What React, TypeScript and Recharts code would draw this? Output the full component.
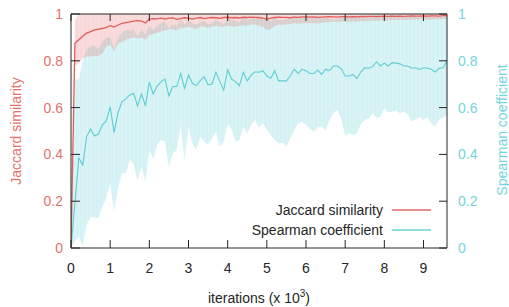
import React from 'react'
import {
  ComposedChart,
  Area,
  Line,
  XAxis,
  YAxis,
  ReferenceLine,
  Legend,
} from 'recharts'

// iterations, in thousands
const iterations = [
  0, 0.1, 0.2, 0.3, 0.4, 0.5, 0.6, 0.7, 0.8, 0.9,
  1, 1.1, 1.2, 1.3, 1.4, 1.5, 1.6, 1.7, 1.8, 1.9,
  2, 2.1, 2.2, 2.3, 2.4, 2.5, 2.6, 2.7, 2.8, 2.9,
  3, 3.1, 3.2, 3.3, 3.4, 3.5, 3.6, 3.7, 3.8, 3.9,
  4, 4.1, 4.2, 4.3, 4.4, 4.5, 4.6, 4.7, 4.8, 4.9,
  5, 5.1, 5.2, 5.3, 5.4, 5.5, 5.6, 5.7, 5.8, 5.9,
  6, 6.1, 6.2, 6.3, 6.4, 6.5, 6.6, 6.7, 6.8, 6.9,
  7, 7.1, 7.2, 7.3, 7.4, 7.5, 7.6, 7.7, 7.8, 7.9,
  8, 8.1, 8.2, 8.3, 8.4, 8.5, 8.6, 8.7, 8.8, 8.9,
  9, 9.1, 9.2, 9.3, 9.4, 9.5, 9.6,
]

const jaccard = [
  0, 0.875, 0.89, 0.905, 0.918, 0.925, 0.932, 0.935, 0.938, 0.943,
  0.95, 0.944, 0.953, 0.96, 0.963, 0.966, 0.97, 0.972, 0.97, 0.962,
  0.978, 0.98, 0.979, 0.982, 0.978, 0.982, 0.983, 0.977, 0.98, 0.984,
  0.982, 0.978, 0.982, 0.985, 0.98, 0.983, 0.985, 0.984, 0.981, 0.985,
  0.986, 0.984, 0.985, 0.983, 0.986, 0.985, 0.987, 0.986, 0.985, 0.982,
  0.978, 0.982, 0.985, 0.987, 0.986, 0.986, 0.984, 0.987, 0.986, 0.988,
  0.988, 0.987, 0.988, 0.986, 0.987, 0.988, 0.989, 0.988, 0.987, 0.989,
  0.989, 0.988, 0.989, 0.988, 0.99, 0.989, 0.99, 0.99, 0.989, 0.99,
  0.991, 0.99, 0.991, 0.99, 0.991, 0.99, 0.991, 0.992, 0.991, 0.991,
  0.992, 0.991, 0.992, 0.992, 0.991, 0.993, 0.993,
]

const jaccardLow = [
  0, 0.78, 0.79, 0.81, 0.818, 0.818, 0.82, 0.82, 0.83, 0.86,
  0.87, 0.84, 0.875, 0.88, 0.89, 0.895, 0.9, 0.895, 0.9, 0.89,
  0.91, 0.915, 0.92, 0.925, 0.93, 0.935, 0.935, 0.93, 0.94, 0.94,
  0.945, 0.94, 0.935, 0.945, 0.945, 0.94, 0.945, 0.95, 0.945, 0.945,
  0.95, 0.948, 0.945, 0.95, 0.952, 0.95, 0.955, 0.955, 0.95, 0.945,
  0.932, 0.935, 0.95, 0.955, 0.953, 0.955, 0.957, 0.96, 0.958, 0.96,
  0.96, 0.962, 0.96, 0.96, 0.962, 0.965, 0.965, 0.968, 0.965, 0.967,
  0.968, 0.966, 0.968, 0.967, 0.97, 0.968, 0.97, 0.972, 0.97, 0.972,
  0.973, 0.972, 0.974, 0.973, 0.975, 0.974, 0.975, 0.976, 0.975, 0.976,
  0.977, 0.975, 0.977, 0.978, 0.977, 0.98, 0.98,
]

const jaccardHigh = [
  0, 0.97, 1, 1, 1, 1, 1, 1, 1, 1,
  1, 1, 1, 1, 1, 1, 1, 1, 1, 1,
  1, 1, 1, 1, 1, 1, 1, 1, 1, 1,
  1, 1, 1, 1, 1, 1, 1, 1, 1, 1,
  1, 1, 1, 1, 1, 1, 1, 1, 1, 1,
  1, 1, 1, 1, 1, 1, 1, 1, 1, 1,
  1, 1, 1, 1, 1, 1, 1, 1, 1, 1,
  1, 1, 1, 1, 1, 1, 1, 1, 1, 1,
  1, 1, 1, 1, 1, 1, 1, 1, 1, 1,
  1, 1, 1, 1, 1, 1, 1,
]

const spearman = [
  0, 0.19, 0.385, 0.355, 0.476, 0.508, 0.479, 0.487, 0.526, 0.543,
  0.604, 0.493, 0.577, 0.625, 0.637, 0.654, 0.661, 0.607, 0.658, 0.607,
  0.709, 0.658, 0.692, 0.711, 0.722, 0.65, 0.69, 0.69, 0.746, 0.682,
  0.739, 0.704, 0.694, 0.715, 0.732, 0.697, 0.701, 0.751, 0.711, 0.675,
  0.761, 0.722, 0.711, 0.694, 0.751, 0.714, 0.739, 0.753, 0.751, 0.758,
  0.735, 0.725, 0.758, 0.714, 0.714, 0.714, 0.736, 0.764, 0.746, 0.764,
  0.758, 0.746, 0.746, 0.76, 0.742, 0.764, 0.758, 0.778, 0.778, 0.766,
  0.735, 0.735, 0.742, 0.724, 0.752, 0.77, 0.768, 0.775, 0.796, 0.778,
  0.79, 0.778, 0.792, 0.79, 0.787, 0.778, 0.778, 0.768, 0.77, 0.763,
  0.77, 0.768, 0.764, 0.752, 0.768, 0.77, 0.8,
]

const spearmanLow = [
  0, 0.03, 0.048, 0.01, 0.1, 0.134, 0.13, 0.127, 0.175, 0.215,
  0.276, 0.155, 0.255, 0.319, 0.319, 0.376, 0.36, 0.29, 0.347, 0.283,
  0.419, 0.383, 0.44, 0.462, 0.454, 0.347, 0.405, 0.419, 0.526, 0.376,
  0.518, 0.447, 0.419, 0.476, 0.454, 0.44, 0.469, 0.497, 0.433, 0.454,
  0.533, 0.505, 0.454, 0.462, 0.518, 0.49, 0.526, 0.547, 0.515, 0.533,
  0.504, 0.483, 0.462, 0.447, 0.45, 0.433, 0.47, 0.504, 0.533, 0.54,
  0.526, 0.511, 0.497, 0.515, 0.518, 0.504, 0.547, 0.578, 0.59, 0.55,
  0.48, 0.49, 0.483, 0.49, 0.53, 0.547, 0.552, 0.576, 0.556, 0.561,
  0.597, 0.58, 0.583, 0.587, 0.576, 0.583, 0.57, 0.54, 0.55, 0.56,
  0.547, 0.561, 0.53, 0.52, 0.55, 0.556, 0.57,
]

const spearmanHigh = [
  0, 0.72, 0.72, 0.8, 0.85, 0.86, 0.865, 0.85, 0.88, 0.9,
  0.9, 0.85, 0.9, 0.92, 0.93, 0.93, 0.935, 0.905, 0.935, 0.91,
  0.95, 0.93, 0.95, 0.96, 0.965, 0.94, 0.955, 0.95, 0.975, 0.955,
  0.97, 0.96, 0.955, 0.965, 0.97, 0.955, 0.96, 0.975, 0.965, 0.955,
  0.985, 0.975, 0.97, 0.965, 0.985, 0.975, 0.98, 0.99, 0.985, 0.985,
  0.975, 0.97, 0.985, 0.975, 0.975, 0.98, 0.985, 0.99, 0.985, 0.99,
  0.99, 0.985, 0.985, 0.99, 0.98, 0.985, 0.98, 0.975, 0.98, 0.985,
  0.99, 0.99, 0.995, 0.99, 0.99, 0.995, 0.99, 0.99, 1, 0.995,
  0.99, 0.99, 1, 0.995, 0.995, 0.99, 0.99, 0.995, 0.99, 0.985,
  0.99, 0.985, 0.995, 0.99, 0.985, 0.99, 1,
]

const xTicks = [0, 1, 2, 3, 4, 5, 6, 7, 8, 9]
const yTicks = [0, 0.2, 0.4, 0.6, 0.8, 1]

const data = iterations.map((x, i) => ({
  x,
  jac: jaccard[i],
  jacBand: [jaccardLow[i], jaccardHigh[i]],
  sp: spearman[i],
  spBand: [spearmanLow[i], spearmanHigh[i]],
}))

const RED = '#e35d5a'
const RED_TEXT = '#e4716d'
const CYAN = '#5fcdd4'
const CYAN_TEXT = '#74d5dc'
const INK = '#262626'
const FONT = '"Liberation Sans", Arial, sans-serif'

const PLOT_TOP = 14
const PLOT_LEFT = 71
const PLOT_RIGHT = 447
const STEP = (PLOT_RIGHT - PLOT_LEFT) / 9.6 / 10

const XTick = ({ x, y, payload }: any) => (
  <g>
    <line x1={x} y1={y} x2={x} y2={y - 8} stroke={INK} />
    <line x1={x} y1={PLOT_TOP} x2={x} y2={PLOT_TOP + 7} stroke={INK} />
    <text x={x} y={y + 25} textAnchor="middle" fill={INK} fontSize={14} fontFamily={FONT}>
      {payload.value}
    </text>
  </g>
)

const LeftTick = ({ x, y, payload }: any) => (
  <g>
    <line x1={x} y1={y} x2={x + 9} y2={y} stroke={INK} />
    <text x={x - 8} y={y} dy="0.36em" textAnchor="end" fill={RED_TEXT} fontSize={14} fontFamily={FONT}>
      {payload.value}
    </text>
  </g>
)

const RightTick = ({ x, y, payload }: any) => (
  <g>
    <line x1={x} y1={y} x2={x - 8} y2={y} stroke={INK} />
    <text x={x + 11} y={y} dy="0.36em" textAnchor="start" fill={CYAN_TEXT} fontSize={14} fontFamily={FONT}>
      {payload.value}
    </text>
  </g>
)

const LegendBox = () => {
  const rows = [
    { label: 'Jaccard similarity', color: RED },
    { label: 'Spearman coefficient', color: CYAN },
  ]
  return (
    <div style={{ fontFamily: FONT, fontSize: 14, color: INK }}>
      {rows.map((r) => (
        <div
          key={r.label}
          style={{ display: 'flex', justifyContent: 'flex-end', alignItems: 'center', height: 20 }}
        >
          <span>{r.label}</span>
          <span
            style={{ display: 'inline-block', width: 39, height: 1.5, marginLeft: 9, background: r.color, opacity: 0.7 }}
          />
        </div>
      ))}
    </div>
  )
}

export default function App() {
  return (
    <div style={{ position: 'absolute', left: 0, top: 0, background: '#fff' }}>
      <ComposedChart
        width={509}
        height={307}
        data={data}
        margin={{ top: PLOT_TOP, right: 0, bottom: 0, left: 0 }}
      >
        <defs>
          <pattern id="cyanFill" patternUnits="userSpaceOnUse" x={PLOT_LEFT} y={0} width={STEP} height={10}>
            <rect x={0} y={0} width={STEP} height={10} fill={CYAN} />
            <rect x={0} y={0} width={0.8} height={10} fill="#fff" opacity={0.3} />
          </pattern>
          <pattern id="redFill" patternUnits="userSpaceOnUse" x={PLOT_LEFT} y={0} width={STEP} height={10}>
            <rect x={0} y={0} width={STEP} height={10} fill={RED} />
            <rect x={0} y={0} width={0.8} height={10} fill="#fff" opacity={0.2} />
          </pattern>
        </defs>
        <XAxis
          dataKey="x"
          type="number"
          domain={[0, 9.6]}
          ticks={xTicks}
          height={59}
          tickSize={0}
          tickMargin={0}
          tick={<XTick />}
          axisLine={{ stroke: INK }}
          allowDataOverflow
          label={{
            content: () => (
              <text x={259} y={303} textAnchor="middle" fill={INK} fontSize={14} fontFamily={FONT}>
                iterations (x 10
                <tspan dy={-6} fontSize={10}>3</tspan>
                <tspan dy={6}>)</tspan>
              </text>
            ),
          }}
        />
        <YAxis
          yAxisId="left"
          orientation="left"
          width={PLOT_LEFT}
          domain={[0, 1]}
          ticks={yTicks}
          tickSize={0}
          tickMargin={0}
          tick={<LeftTick />}
          axisLine={{ stroke: INK }}
          allowDataOverflow
          label={{
            content: () => (
              <text
                transform="translate(16,131) rotate(-90)"
                textAnchor="middle"
                dominantBaseline="central"
                fill={RED_TEXT}
                fontSize={14}
                fontFamily={FONT}
              >
                Jaccard similarity
              </text>
            ),
          }}
        />
        <YAxis
          yAxisId="right"
          orientation="right"
          width={509 - PLOT_RIGHT}
          domain={[0, 1]}
          ticks={yTicks}
          tickSize={0}
          tickMargin={0}
          tick={<RightTick />}
          axisLine={{ stroke: INK }}
          allowDataOverflow
          label={{
            content: () => (
              <text
                transform="translate(502,130) rotate(-90)"
                textAnchor="middle"
                dominantBaseline="central"
                fill={CYAN_TEXT}
                fontSize={14}
                fontFamily={FONT}
              >
                Spearman coefficient
              </text>
            ),
          }}
        />
        <Area
          yAxisId="right"
          dataKey="spBand"
          type="linear"
          stroke="none"
          fill="url(#cyanFill)"
          fillOpacity={0.27}
          isAnimationActive={false}
          legendType="none"
        />
        <Area
          yAxisId="left"
          dataKey="jacBand"
          type="linear"
          stroke="none"
          fill="url(#redFill)"
          fillOpacity={0.24}
          isAnimationActive={false}
          legendType="none"
        />
        <Line
          yAxisId="right"
          dataKey="sp"
          type="linear"
          stroke={CYAN}
          strokeWidth={1.1}
          dot={false}
          isAnimationActive={false}
        />
        <Line
          yAxisId="left"
          dataKey="jac"
          type="linear"
          stroke={RED}
          strokeWidth={1.3}
          dot={false}
          isAnimationActive={false}
        />
        <ReferenceLine yAxisId="left" y={1} stroke={INK} ifOverflow="visible" />
        <Legend
          layout="horizontal"
          verticalAlign="middle"
          align="center"
          content={<LegendBox />}
          wrapperStyle={{ position: 'absolute', left: 200, top: 200, width: 231 }}
        />
      </ComposedChart>
    </div>
  )
}
